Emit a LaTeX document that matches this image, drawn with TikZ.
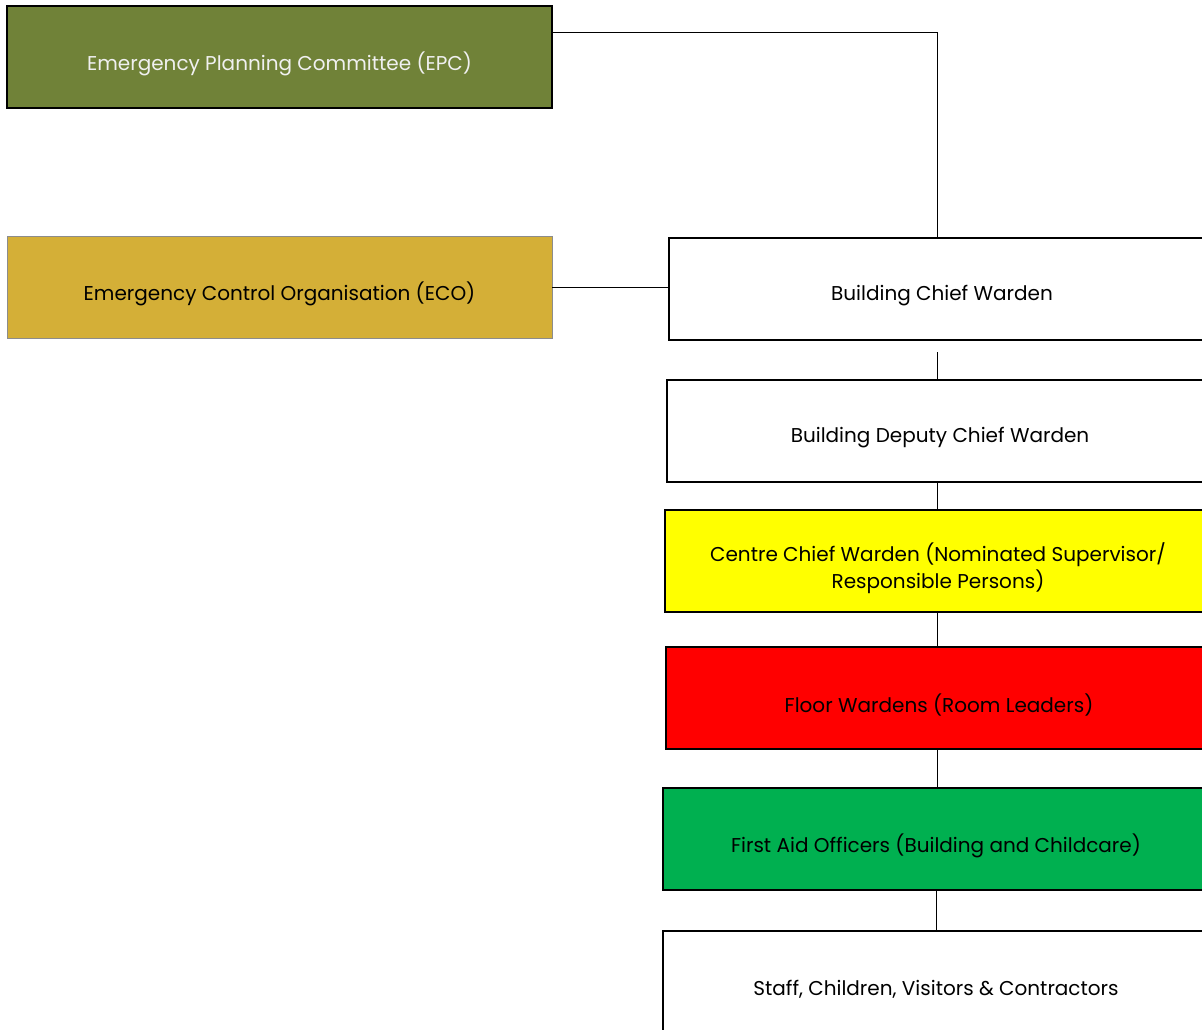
\documentclass[tikz,border=0pt]{standalone}
\usepackage{fontspec}
\setmainfont{Poppins}
\definecolor{epcgreen}{HTML}{708238}
\definecolor{ecogold}{HTML}{D4AF37}
\definecolor{ccwyellow}{HTML}{FFFF00}
\definecolor{fwred}{HTML}{FF0000}
\definecolor{fagreen}{HTML}{00B050}
\definecolor{ecoborder}{HTML}{8C8C8C}
\begin{document}
\begin{tikzpicture}[x=1pt,y=1pt,
  box/.style={draw=black,line width=1.6pt,anchor=north west,inner sep=0pt,outer sep=0pt,
    minimum height=102pt},
  leftbox/.style={box,minimum width=545pt},
  rightbox/.style={box,minimum width=546pt},
  txt/.style={align=center,inner sep=0pt,yshift=-7pt,font=\fontsize{20}{27}\selectfont},
  conn/.style={draw=black,line width=1pt}]
\useasboundingbox (0,0) rectangle (1202,-1029);
\clip (0,0) rectangle (1202,-1029);
\fill[white] (0,0) rectangle (1202,-1029);
\node[leftbox,fill=epcgreen,label={[txt,name=epct,text=white!94!black]center:Emergency Planning Committee (EPC)}] (epc) at (7,-6) {};
\node[leftbox,fill=ecogold,draw=ecoborder,line width=1pt,label={[txt,name=ecot]center:Emergency Control Organisation (ECO)}] (eco) at (7,-236) {};
\node[rightbox,fill=white,label={[txt,name=bcwt]center:Building Chief Warden}] (bcw) at (669,-238) {};
\node[rightbox,fill=white,label={[txt,name=bdcwt]center:Building Deputy Chief Warden}] (bdcw) at (667,-380) {};
\node[rightbox,fill=ccwyellow,label={[txt,name=ccwt]center:Centre Chief Warden (Nominated Supervisor/\\Responsible Persons)}] (ccw) at (665,-510) {};
\node[rightbox,fill=fwred,label={[txt,name=fwt]center:Floor Wardens (Room Leaders)}] (fw) at (666,-647) {};
\node[rightbox,fill=fagreen,label={[txt,name=fat]center:First Aid Officers (Building and Childcare)}] (fa) at (663,-788) {};
\node[rightbox,fill=white,label={[txt,name=stafft]center:Staff, Children, Visitors \& Contractors}] (staff) at (663,-931) {};
\coordinate (bcwgap) at (937,-352);
\draw[conn] (epc.east |- 0,-32) -| (bcw.north -| 937,0);
\draw[conn] (eco.east) -- (eco.east -| bcw.west);
\draw[conn] (bcwgap) -- (bdcw.north -| bcwgap);
\draw[conn] (bdcw.south -| bcwgap) -- (ccw.north -| bcwgap);
\draw[conn] (ccw.south -| bcwgap) -- (fw.north -| bcwgap);
\draw[conn] (fw.south -| bcwgap) -- (fa.north -| bcwgap);
\draw[conn] (fa.south -| 936,0) -- (staff.north -| 936,0);
\end{tikzpicture}
\end{document}
